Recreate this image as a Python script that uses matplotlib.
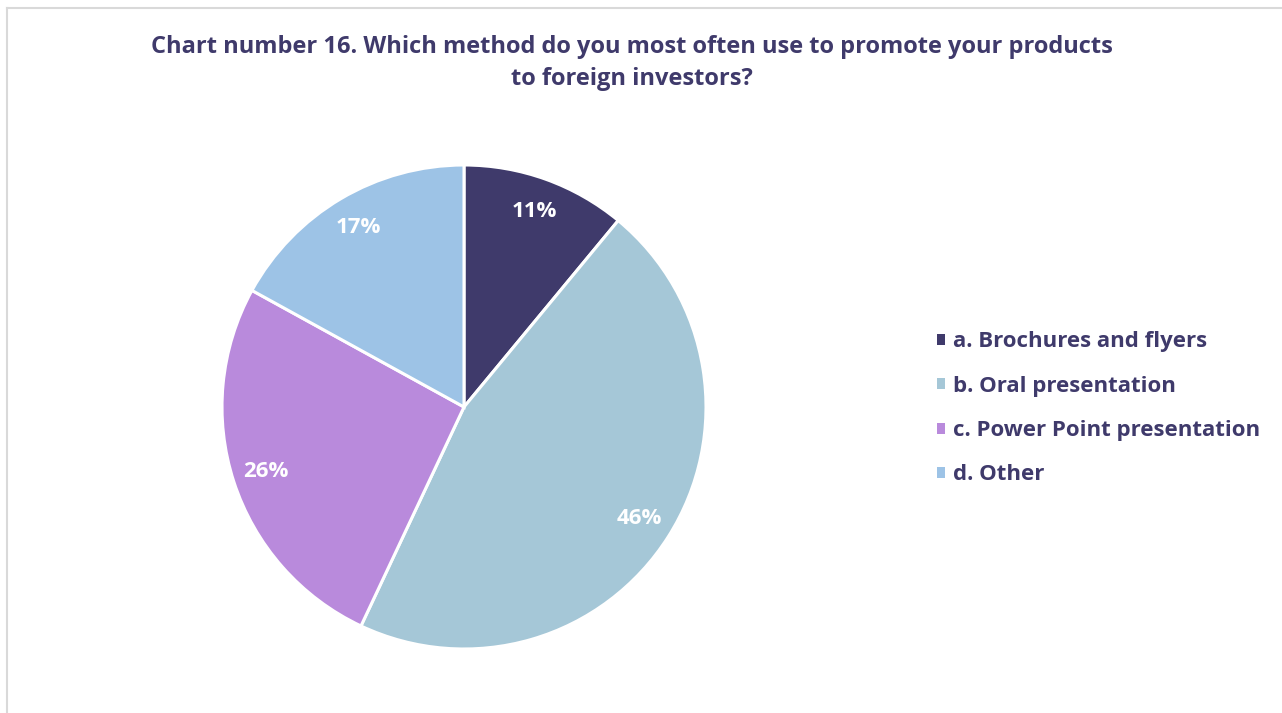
import matplotlib
matplotlib.use("Agg")
import matplotlib.pyplot as plt
from matplotlib.patches import Patch
from matplotlib.lines import Line2D

categories = ["a. Brochures and flyers", "b. Oral presentation",
              "c. Power Point presentation", "d. Other"]
shares = [11, 46, 26, 17]
colors = ["#3F3A6B", "#A5C7D7", "#B98ADC", "#9DC3E6"]
title = ("Chart number 16. Which method do you most often use to promote your products\n"
         "to foreign investors?")
text_color = "#3F3A6B"
font = "Open Sans"

W, H = 1282, 713
fig = plt.figure(figsize=(W / 100, H / 100), dpi=100)

# light frame along the top and left edges
fig.add_artist(Line2D([7 / W, 7 / W], [0, 1 - 8 / H], transform=fig.transFigure,
                      color="#D9D9D9", lw=1.5))
fig.add_artist(Line2D([7 / W, 1], [1 - 8 / H, 1 - 8 / H], transform=fig.transFigure,
                      color="#D9D9D9", lw=1.5))

cx, cy, r = 464, 407, 242
ax = fig.add_axes([(cx - r) / W, (H - cy - r) / H, 2 * r / W, 2 * r / H])
wedges, _, autotexts = ax.pie(
    shares, colors=colors, startangle=90, counterclock=False,
    autopct=lambda p: f"{p:.0f}%", pctdistance=0.86,
    wedgeprops=dict(edgecolor="white", linewidth=2.2),
    textprops=dict(color="white", fontsize=16, fontweight="bold", family=font))
ax.set_xlim(-1, 1)
ax.set_ylim(-1, 1)
ax.set_aspect("equal")
ax.axis("off")

fig.text(632 / W, 1 - 63 / H, title, ha="center", va="center", fontsize=17,
         fontweight="bold", color=text_color, family=font, linespacing=1.4)

handles = [Patch(facecolor=c, edgecolor="none") for c in colors]
leg = fig.legend(handles, categories, loc="center left",
                 bbox_to_anchor=(917 / W, 1 - 408.5 / H), frameon=False,
                 handlelength=0.38, handleheight=0.38, handletextpad=0.32,
                 labelspacing=1.05, prop=dict(family=font, weight="bold", size=16))
for t in leg.get_texts():
    t.set_color(text_color)

fig.savefig("out.png", dpi=100, facecolor="white")
